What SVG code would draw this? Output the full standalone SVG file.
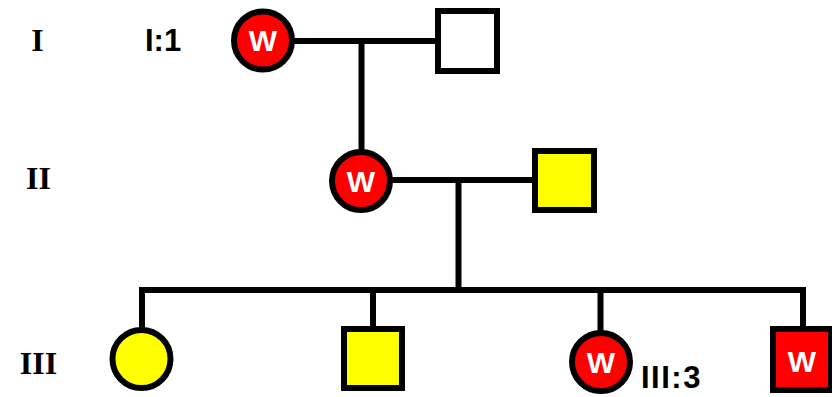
<svg xmlns="http://www.w3.org/2000/svg" width="832" height="397" viewBox="0 0 832 397">
<style>
.ln{fill:none;stroke:#000;stroke-width:6;stroke-linejoin:miter;stroke-linecap:butt}
.sh{stroke:#000;stroke-width:6}
.aff{fill:#ff0000}
.yel{fill:#ffff00}
.un{fill:#fff}
.w{font-family:"Liberation Sans",Arial,sans-serif;font-weight:bold;font-size:30px;fill:#fff;text-anchor:middle}
.lbl{font-family:"Liberation Sans",Arial,sans-serif;font-weight:bold;font-size:31px;fill:#000}
.gen{font-family:"Liberation Serif","Times New Roman",serif;font-weight:bold;font-size:32px;fill:#000;text-anchor:middle}
</style>
<rect width="832" height="397" fill="#fff"/>
<g id="connectors">
<path class="ln" d="M292,41 H438"/>
<path class="ln" d="M361.5,41 V152"/>
<path class="ln" d="M390,180 H532"/>
<path class="ln" d="M458.5,180 V290"/>
<path class="ln" d="M142,330 V290 H803 V329"/>
<path class="ln" d="M373,290 V329"/>
<path class="ln" d="M600.5,290 V333"/>
</g>
<g id="gen-labels">
<text class="gen" x="37.5" y="51">I</text>
<text class="gen" x="38.5" y="189">II</text>
<text class="gen" x="38.5" y="374">III</text>
</g>
<g id="I-1">
<circle class="sh aff" cx="263" cy="40.5" r="29"/>
<text class="w" x="263" y="51">W</text>
<text class="lbl" x="145" y="50.5">I:1</text>
</g>
<g id="I-2">
<rect class="sh un" x="438" y="11" width="59" height="60"/>
</g>
<g id="II-1">
<circle class="sh aff" cx="361" cy="181" r="29"/>
<text class="w" x="361" y="191.5">W</text>
</g>
<g id="II-2">
<rect class="sh yel" x="535" y="151" width="59" height="59"/>
</g>
<g id="III-1">
<circle class="sh yel" cx="141.5" cy="359" r="29"/>
</g>
<g id="III-2">
<rect class="sh yel" x="344" y="329" width="58" height="59"/>
</g>
<g id="III-3">
<circle class="sh aff" cx="601" cy="362" r="29"/>
<text class="w" x="601" y="372.5">W</text>
<text class="lbl" x="641" y="388" letter-spacing="1.5">III:3</text>
</g>
<g id="III-4">
<rect class="sh aff" x="773" y="329" width="58" height="61"/>
<text class="w" x="802" y="372">W</text>
</g>
</svg>
